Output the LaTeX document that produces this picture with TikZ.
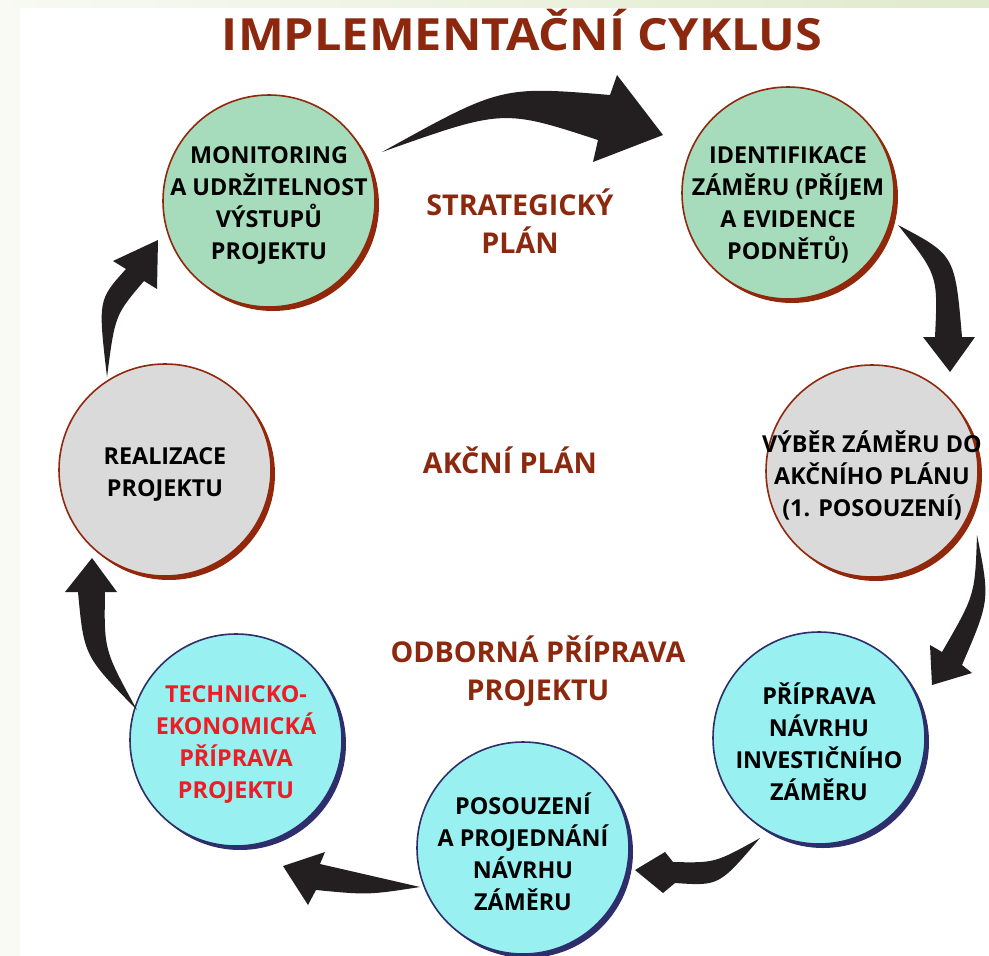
\documentclass[tikz,border=0pt]{standalone}
\usepackage{fontspec}
\setmainfont{Open Sans}
\usetikzlibrary{shadows}

\definecolor{titlered}{RGB}{140,40,14}
\definecolor{labelred}{RGB}{238,28,36}
\definecolor{greenfill}{RGB}{166,220,187}
\definecolor{greyfill}{RGB}{218,218,218}
\definecolor{cyanfill}{RGB}{152,240,240}
\definecolor{brownline}{RGB}{145,40,12}
\definecolor{navyline}{RGB}{46,46,108}
\definecolor{arrowblack}{RGB}{35,31,32}
\definecolor{paleedge}{RGB}{248,250,243}

\begin{document}
\begin{tikzpicture}[x=0.75pt,y=-0.75pt,
    main node/.style={circle,draw,line width=1.2pt,minimum size=159pt,inner sep=0pt},
    green node/.style={main node,fill=greenfill,draw=brownline,general shadow={fill=brownline,shadow xshift=3pt,shadow yshift=-3pt}},
    grey node/.style={main node,fill=greyfill,draw=brownline,general shadow={fill=brownline,shadow xshift=3pt,shadow yshift=-3pt}},
    blue node/.style={main node,fill=cyanfill,draw=navyline,general shadow={fill=navyline,shadow xshift=3pt,shadow yshift=-3pt}},
    step text/.style={font=\bfseries\fontsize{17.5}{24}\selectfont,align=center,yshift=-3pt},
    plan text/.style={font=\bfseries\fontsize{21.5}{29}\selectfont,align=center,text=titlered},
    fat arrow/.style={fill=arrowblack}]

    % background
    \useasboundingbox (0,0) rectangle (989,956);
    \fill[paleedge] (0,0) rectangle (989,956);
    \shade[left color=paleedge,right color={rgb,255:red,224;green,234;blue,204}] (0,0) rectangle (989,8);
    \fill[white] (20,8) rectangle (989,956);

    % title
    \node[text=titlered,inner sep=0pt] (title) at (522,30)
        {\resizebox{450pt}{31pt}{\bfseries IMPLEMENTAČNÍ CYKLUS}};

    % cycle steps
    \node[green node] (1) at (269,201) [label={[step text]center:MONITORING\\A UDRŽITELNOST\\VÝSTUPŮ\\PROJEKTU}] {};
    \node[green node] (2) at (788,193) [label={[step text,yshift=-6pt]center:IDENTIFIKACE\\ZÁMĚRU (PŘÍJEM\\A EVIDENCE\\PODNĚTŮ)}] {};
    \node[grey node] (3) at (872,471) [label={[step text]center:VÝBĚR ZÁMĚRU DO\\AKČNÍHO PLÁNU\\(1. POSOUZENÍ)}] {};
    \node[blue node] (4) at (819,738) [label={[step text]center:PŘÍPRAVA\\NÁVRHU\\INVESTIČNÍHO\\ZÁMĚRU}] {};
    \node[blue node] (5) at (523,848) [label={[step text]center:POSOUZENÍ\\A PROJEDNÁNÍ\\NÁVRHU\\ZÁMĚRU}] {};
    \node[blue node] (6) at (236,740) [label={[step text,text=labelred]center:TECHNICKO-\\EKONOMICKÁ\\PŘÍPRAVA\\PROJEKTU}] {};
    \node[grey node] (7) at (165,470) [label={[step text]center:REALIZACE\\PROJEKTU}] {};

    % plan levels
    \node[plan text] (strategic) at (520,221) {STRATEGICKÝ\\PLÁN};
    \node[plan text] (action) at (510,460) {AKČNÍ PLÁN};
    \node[plan text] (expert) at (538,671) {ODBORNÁ PŘÍPRAVA\\PROJEKTU};

    % arrows
    \fill[fat arrow] (382,152) .. controls (501,86) .. (610,95) -- (617,75) -- (663,135)
        -- (593,162) -- (598,140) .. controls (503,109) .. (382,152) -- cycle;
    \fill[fat arrow] (898,225) .. controls (955,255) .. (962,337) -- (975,337) -- (950,372)
        -- (923,337) -- (935,337) .. controls (938,275) .. (898,225) -- cycle;
    \fill[fat arrow] (977,535) .. controls (990,600) .. (962,665) -- (972,673) -- (932,685)
        -- (930,645) -- (942,652) .. controls (975,595) .. (977,535) -- cycle;
    \fill[fat arrow] (760,838) .. controls (715,863) .. (673,862) -- (665,852) -- (635,870)
        -- (663,893) -- (675,883) .. controls (719,886) .. (760,838) -- cycle;
    \fill[fat arrow] (420,887) .. controls (370,876) .. (320,864) -- (325,852) -- (283,866)
        -- (308,905) -- (316,890) .. controls (368,895) .. (420,887) -- cycle;
    \fill[fat arrow] (137,710) .. controls (104,650) .. (105,592) -- (117,592) -- (92,558)
        -- (65,592) -- (78,592) .. controls (84,656) .. (137,710) -- cycle;
    \fill[fat arrow] (107,377) .. controls (98,300) .. (126,269) -- (113,261) -- (158,240)
        -- (157,289) -- (144,281) .. controls (115,315) .. (107,377) -- cycle;

\end{tikzpicture}
\end{document}
